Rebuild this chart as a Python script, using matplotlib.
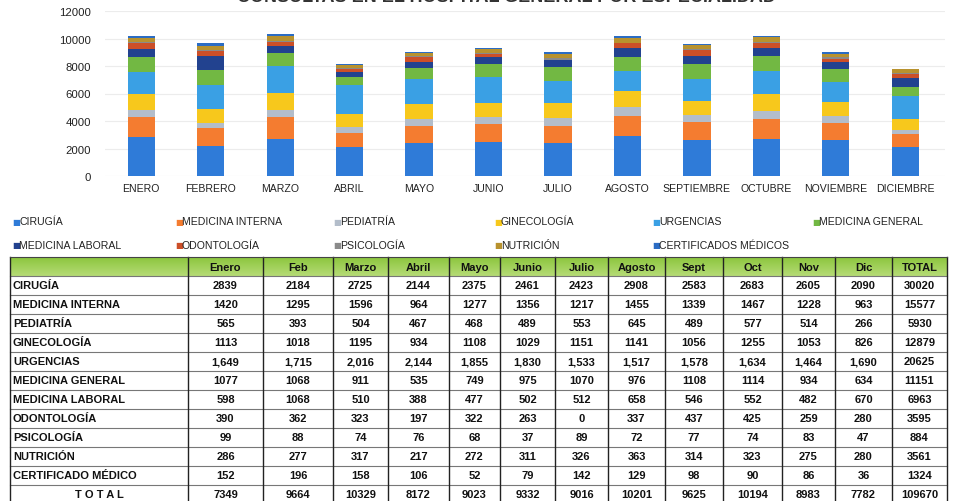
import numpy as np
import matplotlib
matplotlib.use("Agg")
import matplotlib.pyplot as plt

plt.rcParams["font.family"] = ["Liberation Sans", "DejaVu Sans"]

# ---- data ----
months_axis = ["ENERO", "FEBRERO", "MARZO", "ABRIL", "MAYO", "JUNIO", "JULIO",
               "AGOSTO", "SEPTIEMBRE", "OCTUBRE", "NOVIEMBRE", "DICIEMBRE"]
months_table = ["Enero", "Feb", "Marzo", "Abril", "Mayo", "Junio", "Julio",
                "Agosto", "Sept", "Oct", "Nov", "Dic"]

series_legend = ["CIRUGÍA", "MEDICINA INTERNA", "PEDIATRÍA", "GINECOLOGÍA", "URGENCIAS",
                 "MEDICINA GENERAL", "MEDICINA LABORAL", "ODONTOLOGÍA", "PSICOLOGÍA",
                 "NUTRICIÓN", "CERTIFICADOS MÉDICOS"]
row_labels = ["CIRUGÍA", "MEDICINA INTERNA", "PEDIATRÍA", "GINECOLOGÍA", "URGENCIAS",
              "MEDICINA GENERAL", "MEDICINA LABORAL", "ODONTOLOGÍA", "PSICOLOGÍA",
              "NUTRICIÓN", "CERTIFICADO MÉDICO"]

cirugia = [2839, 2184, 2725, 2144, 2375, 2461, 2423, 2908, 2583, 2683, 2605, 2090]
medicina_interna = [1420, 1295, 1596, 964, 1277, 1356, 1217, 1455, 1339, 1467, 1228, 963]
pediatria = [565, 393, 504, 467, 468, 489, 553, 645, 489, 577, 514, 266]
ginecologia = [1113, 1018, 1195, 934, 1108, 1029, 1151, 1141, 1056, 1255, 1053, 826]
urgencias = [1649, 1715, 2016, 2144, 1855, 1830, 1533, 1517, 1578, 1634, 1464, 1690]
medicina_general = [1077, 1068, 911, 535, 749, 975, 1070, 976, 1108, 1114, 934, 634]
medicina_laboral = [598, 1068, 510, 388, 477, 502, 512, 658, 546, 552, 482, 670]
odontologia = [390, 362, 323, 197, 322, 263, 0, 337, 437, 425, 259, 280]
psicologia = [99, 88, 74, 76, 68, 37, 89, 72, 77, 74, 83, 47]
nutricion = [286, 277, 317, 217, 272, 311, 326, 363, 314, 323, 275, 280]
certificados = [152, 196, 158, 106, 52, 79, 142, 129, 98, 90, 86, 36]

row_totals = [30020, 15577, 5930, 12879, 20625, 11151, 6963, 3595, 884, 3561, 1324]
month_totals = [7349, 9664, 10329, 8172, 9023, 9332, 9016, 10201, 9625, 10194, 8983, 7782]
grand_total = 109670

series = [cirugia, medicina_interna, pediatria, ginecologia, urgencias, medicina_general,
          medicina_laboral, odontologia, psicologia, nutricion, certificados]
colors = ["#2f7bd8", "#f47c30", "#b3bdca", "#f7c81c", "#3aa0e4", "#72b843",
          "#22428f", "#cc4f28", "#8a8a8a", "#b8922e", "#2b6cc4"]

W, H = 956, 502
fig = plt.figure(figsize=(W / 100, H / 100), dpi=100)
fig.patch.set_facecolor("white")

# ---- stacked bar chart ----
ax = fig.add_axes([105 / W, (H - 177) / H, 840 / W, 165 / H])
x = np.arange(len(months_axis))
bottom = np.zeros(len(months_axis))
for vals, col, name in zip(series, colors, series_legend):
    ax.bar(x, vals, 0.39, bottom=bottom, color=col, label=name, zorder=3)
    bottom += np.array(vals)
ax.set_xlim(-0.52, 11.57)
ax.set_ylim(0, 12000)
ax.set_yticks(range(0, 12001, 2000))
ax.yaxis.grid(True, color="#ececec", linewidth=0.8, zorder=0)
for s in ax.spines.values():
    s.set_visible(False)
ax.tick_params(length=0, labelsize=8.2, colors="#222222")
ax.tick_params(axis="y", pad=10)
ax.tick_params(axis="x", labelsize=7.6, pad=5)
ax.set_xticks(x)
ax.set_xticklabels(months_axis)

# title is cropped at the top edge in the scanned original
fig.text(0.53, 1.004, "CONSULTAS EN EL HOSPITAL GENERAL POR ESPECIALIDAD",
         ha="center", va="center", fontsize=13, fontweight="bold", color="#333333")

# ---- legend ----
leg_x = [12, 175, 333, 494, 652, 812]
leg_y = [222, 246]
for i, (name, col) in enumerate(zip(series_legend, colors)):
    r, c = divmod(i, 6)
    fig.text(leg_x[c] / W, 1 - leg_y[r] / H, "■", color=col, fontsize=6,
             ha="left", va="center", family="DejaVu Sans")
    fig.text((leg_x[c] + 7) / W, 1 - leg_y[r] / H, name, fontsize=7.6,
             ha="left", va="center", color="#222222")

# ---- table ----
tx = fig.add_axes([0, 0, 1, 1])
tx.set_xlim(0, W)
tx.set_ylim(H, 0)
tx.axis("off")
col_edges = [10, 188, 263, 333, 388, 449, 500, 555, 608, 665, 723, 782, 835, 892, 947]
top = 258
rh = 19
n_rows = len(row_labels) + 2
bottom_edge = top + rh * n_rows

# green header with soft gradient
grad = np.linspace(0, 1, 30).reshape(-1, 1)
tx.imshow(grad, extent=(col_edges[0], col_edges[-1], top + rh, top), aspect="auto",
          cmap=matplotlib.colors.LinearSegmentedColormap.from_list("g", ["#8cc63e", "#b5db75"]),
          zorder=1)

bold = dict(fontweight="bold", fontsize=8, color="#111111")
for j, h in enumerate(months_table + ["TOTAL"]):
    cx = (col_edges[j + 1] + col_edges[j + 2]) / 2
    tx.text(cx, top + rh / 2 + 1, h, ha="center", va="center", zorder=3, **bold)

for i, lab in enumerate(row_labels):
    cy = top + rh * (i + 1) + rh / 2
    tx.text(col_edges[0] + 3, cy, lab, ha="left", va="center", zorder=3, **bold)
    vals = series[i]
    for j, v in enumerate(vals):
        cx = (col_edges[j + 1] + col_edges[j + 2]) / 2
        txt = f"{v:,}" if lab == "URGENCIAS" else str(v)
        tx.text(cx, cy, txt, ha="center", va="center", zorder=3, **bold)
    cx = (col_edges[-2] + col_edges[-1]) / 2
    tx.text(cx, cy, str(row_totals[i]), ha="center", va="center", zorder=3, **bold)

cy = top + rh * (n_rows - 1) + rh / 2
tx.text((col_edges[0] + col_edges[1]) / 2, cy, "T O T A L", ha="center", va="center",
        zorder=3, **bold)
for j, v in enumerate(month_totals):
    cx = (col_edges[j + 1] + col_edges[j + 2]) / 2
    tx.text(cx, cy, str(v), ha="center", va="center", zorder=3, **bold)
tx.text((col_edges[-2] + col_edges[-1]) / 2, cy, str(grand_total), ha="center",
        va="center", zorder=3, **bold)

# grid lines
for k in range(1, n_rows):
    y = top + rh * k
    tx.plot([col_edges[0], col_edges[-1]], [y, y], color="#777777", lw=0.8, zorder=2)
for e in col_edges:
    tx.plot([e, e], [top, bottom_edge], color="#222222", lw=1.0, zorder=2)
tx.plot([col_edges[0], col_edges[-1]], [top, top], color="#444444", lw=0.8, zorder=2)

fig.savefig("out.png", dpi=100)
